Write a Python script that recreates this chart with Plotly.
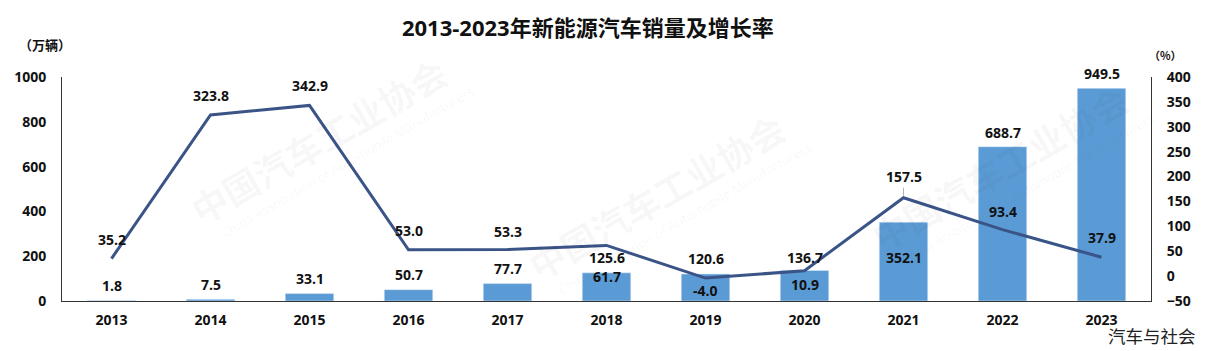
import plotly.graph_objects as go

years = ["2013", "2014", "2015", "2016", "2017", "2018", "2019", "2020", "2021", "2022", "2023"]
sales = [1.8, 7.5, 33.1, 50.7, 77.7, 125.6, 120.6, 136.7, 352.1, 688.7, 949.5]
growth = [35.2, 323.8, 342.9, 53.0, 53.3, 61.7, -4.0, 10.9, 157.5, 93.4, 37.9]

left_ticks = [0, 200, 400, 600, 800, 1000]
right_ticks = [-50, 0, 50, 100, 150, 200, 250, 300, 350, 400]

# label offsets (pixels, positive = up)
sales_label_shift = [15, 15, 15, 15, 15, 15, 15, 13, -35, 14, 15]
growth_label_shift = [19, 19, 20, 19, 18, -31, -12, -14, 21, 18, 20]

NUM_FONT = "Open Sans, Noto Sans CJK SC, sans-serif"
CJK_FONT = "Noto Sans CJK SC, sans-serif"
BAR_COLOR = "#5B9BD5"
LINE_COLOR = "#3A5488"

fig = go.Figure()
fig.add_trace(go.Bar(x=years, y=sales, marker_color=BAR_COLOR, width=0.49,
                     yaxis="y", hoverinfo="skip"))
fig.add_trace(go.Scatter(x=years, y=growth, mode="lines", yaxis="y2",
                         line=dict(color=LINE_COLOR, width=3), hoverinfo="skip"))

ann = []
# watermarks (paper coords: chinese centre, english centre)
wm = [(0.235, 0.72, 0.262, 0.62), (0.545, 0.47, 0.572, 0.37), (0.86, 0.60, 0.887, 0.50)]
for cx, cy, ex, ey in wm:
    ann.append(dict(xref="paper", yref="paper", x=cx, y=cy, xanchor="center", yanchor="middle",
                    text="中国汽车工业协会", showarrow=False, textangle=-30,
                    font=dict(family=CJK_FONT, size=36, color="rgba(0,0,0,0.045)", weight="bold")))
    ann.append(dict(xref="paper", yref="paper", x=ex, y=ey, xanchor="center", yanchor="middle",
                    text="China Association of Automobile Manufacturers",
                    showarrow=False, textangle=-30,
                    font=dict(family=NUM_FONT, size=13, color="rgba(0,0,0,0.045)")))

for i, (v, s) in enumerate(zip(sales, sales_label_shift)):
    ann.append(dict(x=i, y=v, xref="x", yref="y", text=f"{v:.1f}", showarrow=False,
                    yanchor="middle", yshift=s,
                    font=dict(family=NUM_FONT, size=14, color="#111111", weight="bold")))
for i, (yr, v, s) in enumerate(zip(years, growth, growth_label_shift)):
    if yr == "2021":
        ann.append(dict(x=i, y=v, xref="x", yref="y2", text=f"{v:.1f}", showarrow=True,
                        arrowhead=0, arrowwidth=0.8, arrowcolor="#A0A0A0", ax=0, ay=-s,
                        standoff=2,
                        font=dict(family=NUM_FONT, size=14, color="#111111", weight="bold")))
    else:
        ann.append(dict(x=i, y=v, xref="x", yref="y2", text=f"{v:.1f}", showarrow=False,
                        yanchor="middle", yshift=s,
                        font=dict(family=NUM_FONT, size=14, color="#111111", weight="bold")))

ann.append(dict(xref="paper", yref="paper", x=-0.0156, y=1.145, xanchor="center", yanchor="middle",
                text="（万辆）", showarrow=False,
                font=dict(family=CJK_FONT, size=13, color="#111111", weight="bold")))
ann.append(dict(xref="paper", yref="paper", x=1.0129, y=1.098, xanchor="center", yanchor="middle",
                text="（%）", showarrow=False,
                font=dict(family=CJK_FONT, size=11, color="#111111", weight="bold")))
ann.append(dict(xref="paper", yref="paper", x=1.043, y=-0.152, xanchor="right", yanchor="middle",
                text="汽车与社会", showarrow=False,
                font=dict(family=CJK_FONT, size=17.5, color="#222222")))

fig.update_layout(
    width=1212, height=351,
    margin=dict(l=62, r=61, t=77, b=50),
    paper_bgcolor="white", plot_bgcolor="white",
    showlegend=False,
    title=dict(text="2013-2023年新能源汽车销量及增长率", x=0.485, xanchor="center",
               y=0.92, yanchor="middle",
               font=dict(family=NUM_FONT, size=22, color="#111111", weight="bold")),
    xaxis=dict(type="category", categoryorder="array", categoryarray=years,
               range=[-0.5, len(years) - 0.5], autorange=False,
               showline=True, linecolor="#333333", linewidth=1, ticks="",
               showgrid=False, zeroline=False, ticklabelstandoff=6,
               tickfont=dict(family=NUM_FONT, size=14, color="#111111", weight="bold")),
    yaxis=dict(range=[0, 1000], tickvals=left_ticks, showline=True, linecolor="#333333",
               linewidth=1, showgrid=False, zeroline=False, ticks="", ticklabelstandoff=12,
               tickfont=dict(family=NUM_FONT, size=14, color="#111111", weight="bold")),
    yaxis2=dict(range=[-50, 400], tickvals=right_ticks, overlaying="y", side="right",
                showline=True, linecolor="#333333", linewidth=1, showgrid=False,
                zeroline=False, ticks="", ticklabelstandoff=12,
                tickfont=dict(family=NUM_FONT, size=14, color="#111111", weight="bold")),
    annotations=ann,
)

fig.write_html("out.html")
